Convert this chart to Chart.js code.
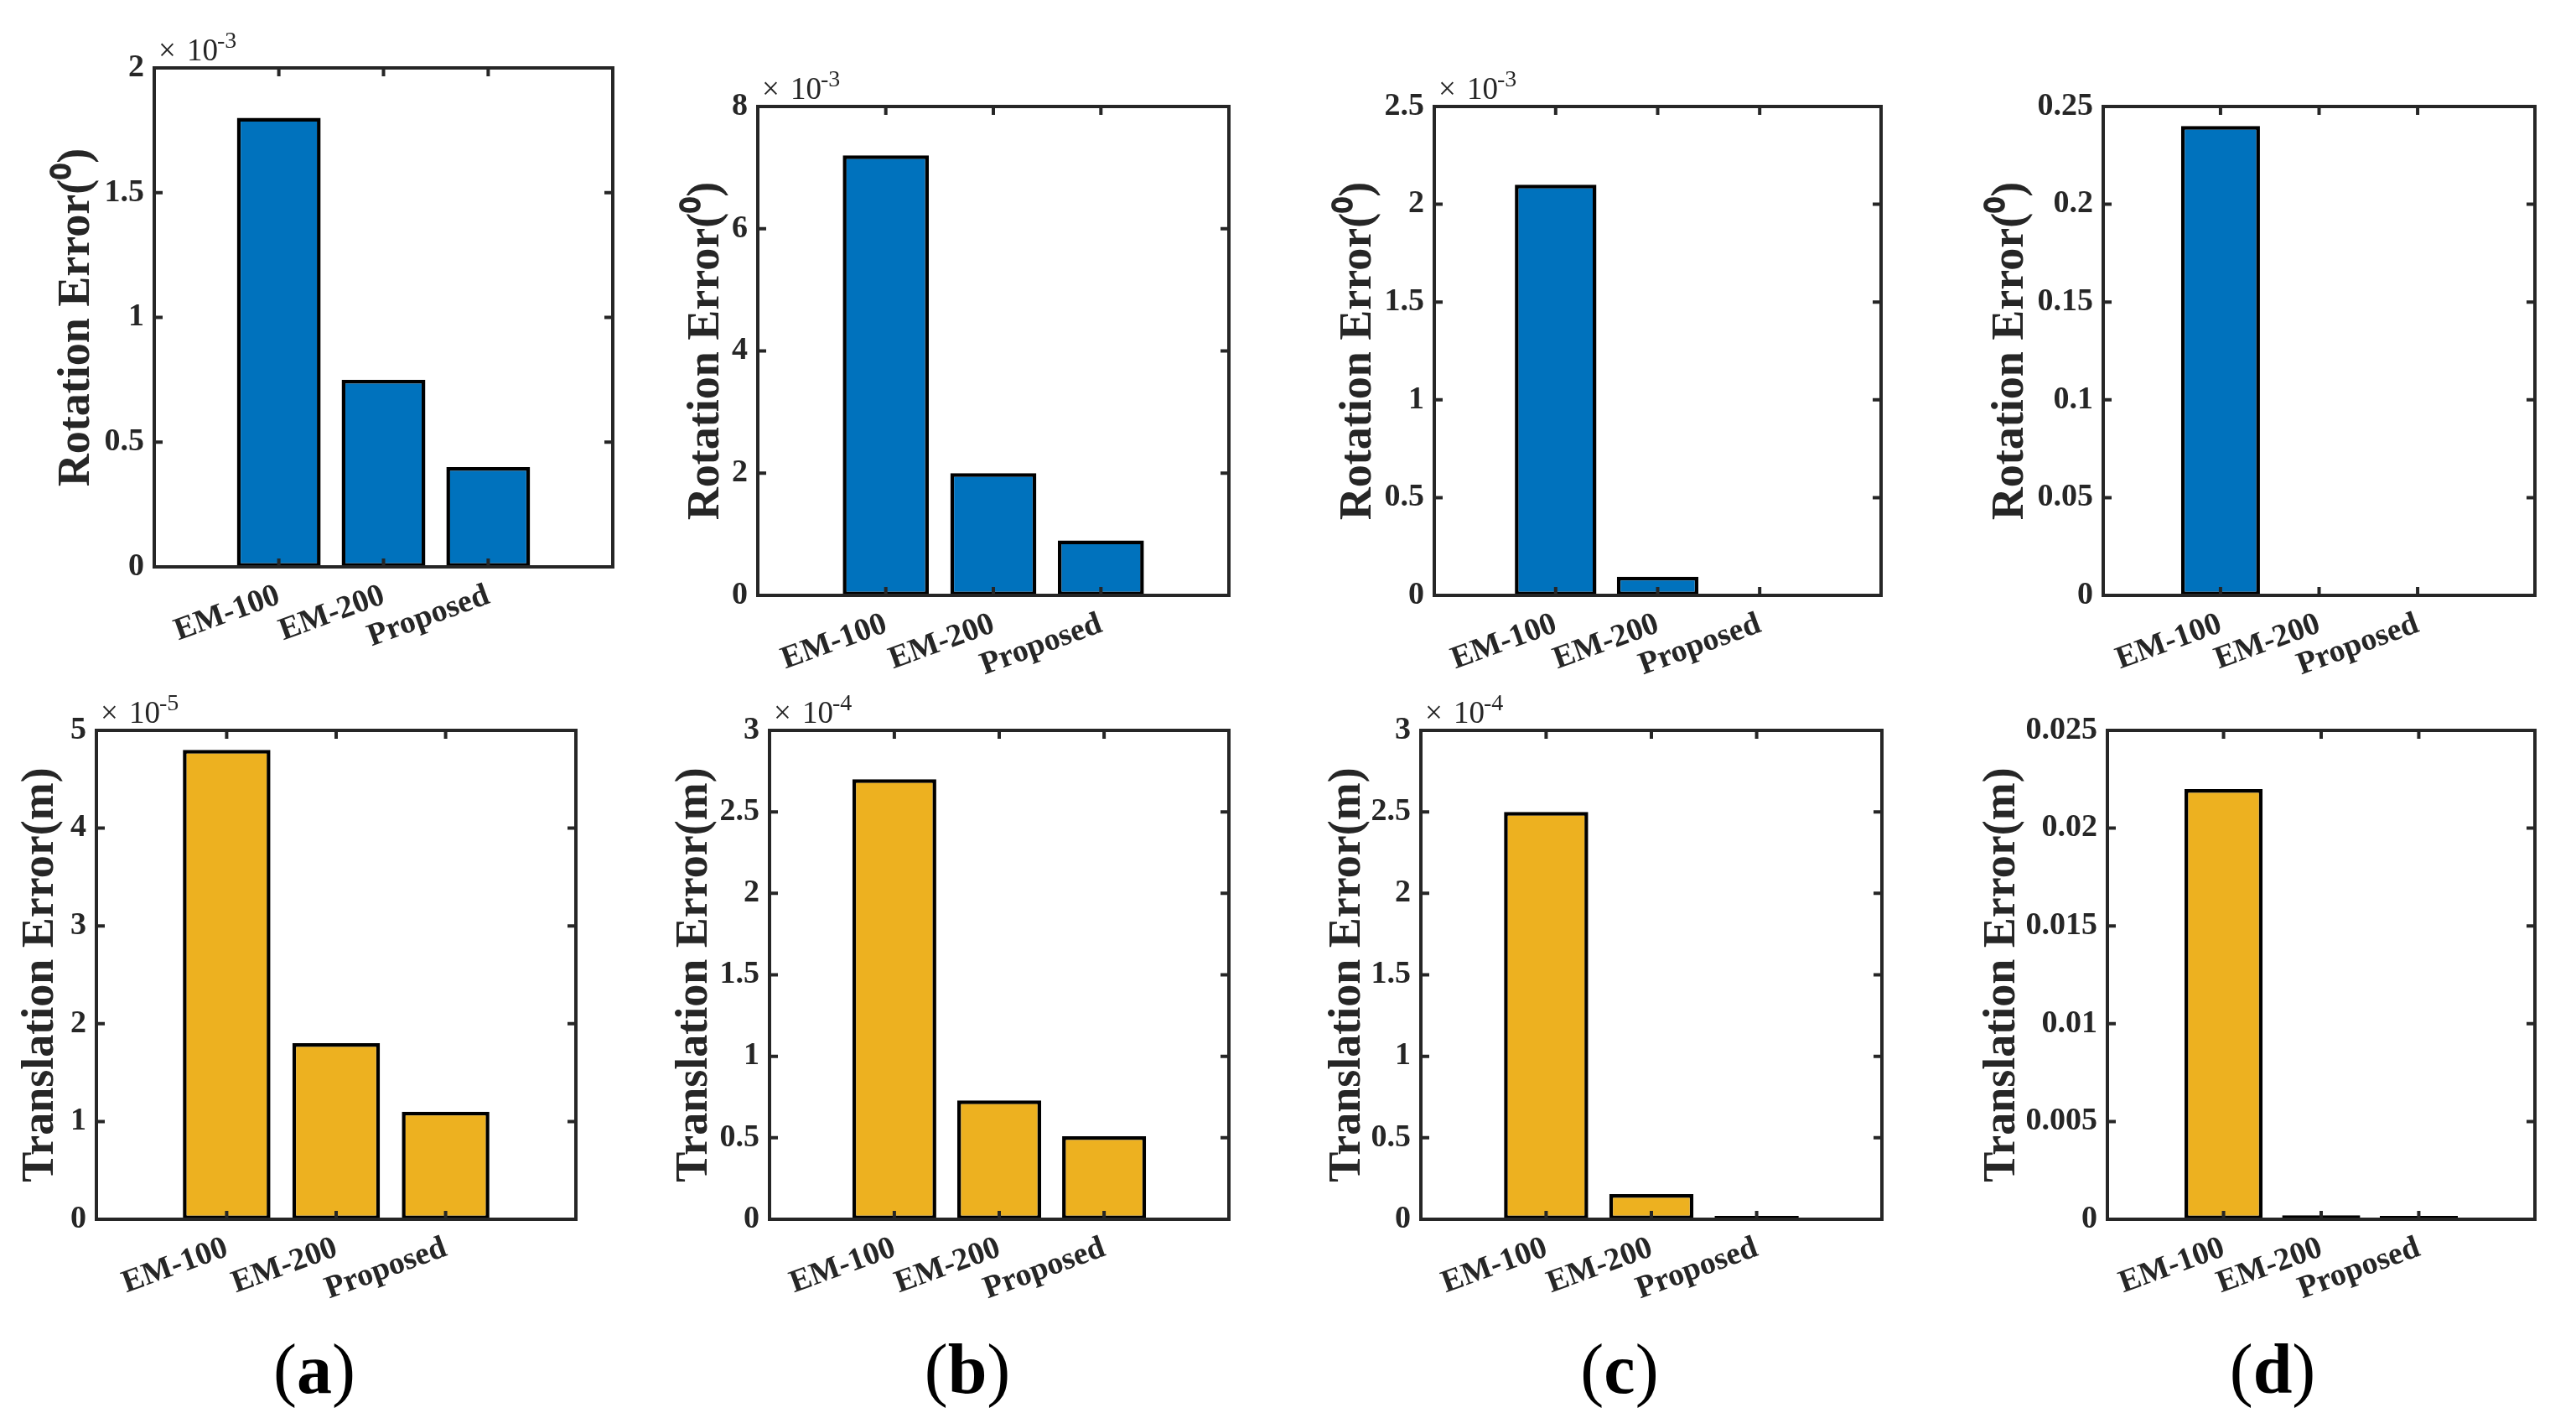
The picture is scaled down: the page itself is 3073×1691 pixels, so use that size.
<!DOCTYPE html>
<html>
<head>
<meta charset="utf-8">
<script src="https://cdn.jsdelivr.net/npm/chart.js@4.4.1/dist/chart.umd.min.js"></script>
<style>
  html, body { margin: 0; padding: 0; background: #fff; }
  #wrap { position: relative; width: 3073px; height: 1691px; overflow: hidden; }
  #wrap canvas { position: absolute; left: 0; top: 0; pointer-events: none; }
  .plabel { position: absolute; font-family: "Liberation Serif", serif; font-size: 84px; color: #000;
            transform: translate(-50%, -50%); white-space: nowrap; }
</style>
</head>
<body>
<div id="wrap"></div>
<script>
// ---- data ----
const methods = ['EM-100', 'EM-200', 'Proposed'];
const panelLabels = ['(a)', '(b)', '(c)', '(d)'];

const rotError = [
  [1.8e-3, 0.75e-3, 0.4e-3],
  [7.2e-3, 2.0e-3, 0.9e-3],
  [2.1e-3, 0.095e-3, 0.004e-3],
  [0.24, 0.0004, 0.0003]
];
const transError = [
  [4.8e-5, 1.8e-5, 1.1e-5],
  [2.7e-4, 0.73e-4, 0.51e-4],
  [2.5e-4, 0.155e-4, 0.02e-4],
  [0.022, 0.0002, 0.00017]
];

const rotTicks = [
  [0, 0.5, 1, 1.5, 2],
  [0, 2, 4, 6, 8],
  [0, 0.5, 1, 1.5, 2, 2.5],
  [0, 0.05, 0.1, 0.15, 0.2, 0.25]
];
const rotExp = [-3, -3, -3, 0];
const transTicks = [
  [0, 1, 2, 3, 4, 5],
  [0, 0.5, 1, 1.5, 2, 2.5, 3],
  [0, 0.5, 1, 1.5, 2, 2.5, 3],
  [0, 0.005, 0.01, 0.015, 0.02, 0.025]
];
const transExp = [-5, -4, -4, 0];

const rotTitle = 'Rotation Error(\u2070)';
const transTitle = 'Translation Error(m)';

// ---- layout (page pixels) ----
const W = 3073, H = 1691;
const rotBoxes = [[184, 731, 81, 676], [904, 1466, 127, 710], [1711, 2244, 127, 710], [2509, 3024, 127, 710]];
const transBoxes = [[115, 687, 871, 1454], [918, 1466, 871, 1454], [1695, 2245, 871, 1454], [2514, 3024, 871, 1454]];
const rotTitleX = [92, 843, 1621, 2399];
const transTitleX = [49, 829, 1608, 2389];
const labelPos = [[375, 1632], [1154, 1632], [1932, 1632], [2711, 1632]];

const ink = '#262626';
const serif = '"Liberation Serif", "Times New Roman", serif';
const xAxisH = 150;
const titleSize = 54;

// box, inward ticks and the x10^n multiplier, MATLAB style
const framePlugin = {
  id: 'frame',
  afterDraw(chart, args, opts) {
    const { ctx, chartArea: a, scales } = chart;
    ctx.save();
    ctx.strokeStyle = ink;
    ctx.lineWidth = 4;
    ctx.beginPath();
    scales.x.ticks.forEach(t => {
      const px = scales.x.getPixelForValue(t.value);
      ctx.moveTo(px, a.bottom); ctx.lineTo(px, a.bottom - 10);
      ctx.moveTo(px, a.top); ctx.lineTo(px, a.top + 10);
    });
    scales.y.ticks.forEach(t => {
      const py = scales.y.getPixelForValue(t.value);
      ctx.moveTo(a.left, py); ctx.lineTo(a.left + 10, py);
      ctx.moveTo(a.right, py); ctx.lineTo(a.right - 10, py);
    });
    ctx.stroke();
    ctx.strokeRect(a.left, a.top, a.right - a.left, a.bottom - a.top);
    if (opts.exp) {
      ctx.fillStyle = ink;
      ctx.textBaseline = 'alphabetic';
      ctx.textAlign = 'left';
      const x = a.left + 5, y = a.top - 9;
      ctx.font = '37px ' + serif;
      ctx.fillText('\u00d7', x, y);
      ctx.fillText('10', x + 34, y);
      const w10 = ctx.measureText('10').width;
      ctx.font = '28px ' + serif;
      ctx.fillText(String(opts.exp), x + 34 + w10 - 1, y - 15);
    }
    ctx.restore();
  }
};

function makePanel(vals, ticks, exp, title, color, box, titleX) {
  const [L, R, T, B] = box;
  const canvas = document.createElement('canvas');
  canvas.width = W; canvas.height = H;
  canvas.style.width = W + 'px'; canvas.style.height = H + 'px';
  document.getElementById('wrap').appendChild(canvas);

  const scaleF = Math.pow(10, exp);
  const lh = titleSize * 1.2;
  const padLeft = titleX - lh / 2;
  const yW = L - padLeft;
  const tickFont = { family: serif, size: 38, weight: 'bold' };

  new Chart(canvas, {
    type: 'bar',
    data: {
      datasets: [{
        data: methods.map((m, i) => ({ x: i + 1, y: vals[i] })),
        backgroundColor: color,
        borderColor: '#000',
        borderWidth: 4.5,
        borderSkipped: false,
        barPercentage: 0.8,
        categoryPercentage: 1
      }]
    },
    options: {
      responsive: false,
      animation: false,
      devicePixelRatio: 1,
      events: [],
      layout: { padding: { left: padLeft, top: T, right: W - R, bottom: H - B - xAxisH } },
      plugins: {
        legend: { display: false },
        tooltip: { enabled: false },
        frame: { exp: exp }
      },
      scales: {
        x: {
          type: 'linear',
          min: -0.19,
          max: 4.19,
          offset: false,
          grid: { display: false, drawTicks: false },
          border: { display: false },
          afterBuildTicks: s => { s.ticks = methods.map((m, i) => ({ value: i + 1 })); },
          afterFit: s => { s.height = xAxisH; },
          ticks: {
            autoSkip: false,
            minRotation: 20,
            maxRotation: 20,
            padding: 12,
            color: ink,
            font: tickFont,
            callback: (v, i) => methods[i]
          }
        },
        y: {
          type: 'linear',
          min: 0,
          max: ticks[ticks.length - 1] * scaleF,
          grid: { display: false, drawTicks: false },
          border: { display: false },
          afterBuildTicks: s => { s.ticks = ticks.map(t => ({ value: t * scaleF })); },
          afterFit: s => { s.width = yW; },
          ticks: {
            autoSkip: false,
            padding: 12,
            color: ink,
            font: tickFont,
            callback: (v, i) => String(ticks[i])
          },
          title: {
            display: true,
            text: title,
            color: ink,
            padding: 0,
            font: { family: serif, size: titleSize, weight: 'bold' }
          }
        }
      }
    },
    plugins: [framePlugin]
  });
}

for (let c = 0; c < 4; c++) {
  makePanel(rotError[c], rotTicks[c], rotExp[c], rotTitle, '#0072BD', rotBoxes[c], rotTitleX[c]);
  makePanel(transError[c], transTicks[c], transExp[c], transTitle, '#EDB120', transBoxes[c], transTitleX[c]);
}

panelLabels.forEach((lab, i) => {
  const d = document.createElement('div');
  d.className = 'plabel';
  d.style.left = labelPos[i][0] + 'px';
  d.style.top = labelPos[i][1] + 'px';
  d.innerHTML = '(<b>' + lab.slice(1, -1) + '</b>)';
  document.getElementById('wrap').appendChild(d);
});
</script>
</body>
</html>
